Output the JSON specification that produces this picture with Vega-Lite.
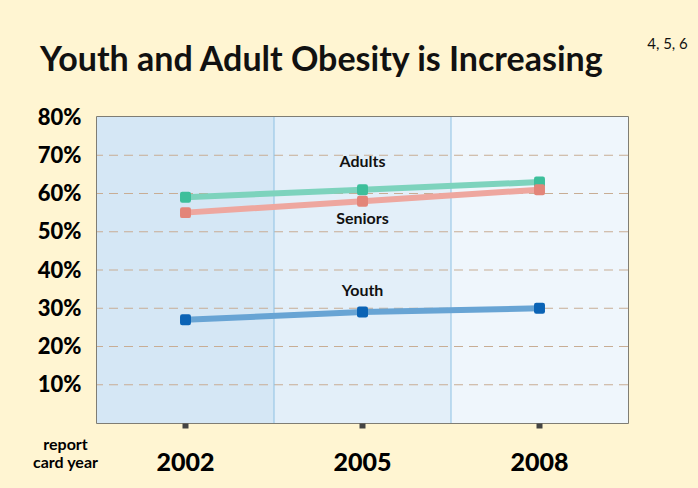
{
  "$schema": "https://vega.github.io/schema/vega-lite/v6.json",
  "width": 531,
  "height": 306,
  "autosize": {"type": "none"},
  "padding": {"left": 97, "top": 117, "right": 70, "bottom": 65},
  "background": "#fff5d2",
  "title": {
    "text": "Youth and Adult Obesity is Increasing",
    "anchor": "start",
    "frame": "group",
    "dx": -57,
    "dy": 72,
    "offset": 4,
    "baseline": "alphabetic",
    "font": "Lato",
    "fontSize": 34,
    "fontWeight": "bold",
    "color": "#111111"
  },
  "config": {
    "view": {"stroke": "#555555", "strokeWidth": 1.5},
    "font": "Lato"
  },
  "datasets": {
    "obesity": [
      {"series": "Adults", "year": 2002, "value": 59},
      {"series": "Adults", "year": 2005, "value": 61},
      {"series": "Adults", "year": 2008, "value": 63},
      {"series": "Seniors", "year": 2002, "value": 55},
      {"series": "Seniors", "year": 2005, "value": 58},
      {"series": "Seniors", "year": 2008, "value": 61},
      {"series": "Youth", "year": 2002, "value": 27},
      {"series": "Youth", "year": 2005, "value": 29},
      {"series": "Youth", "year": 2008, "value": 30}
    ],
    "years": [{"year": 2002}, {"year": 2005}, {"year": 2008}],
    "gridlines": [
      {"level": 10}, {"level": 20}, {"level": 30}, {"level": 40},
      {"level": 50}, {"level": 60}, {"level": 70}
    ],
    "note": [{"refs": "4, 5, 6"}]
  },
  "layer": [
    {
      "data": {"name": "years"},
      "mark": {"type": "rect"},
      "encoding": {
        "x": {
          "field": "year",
          "type": "ordinal",
          "scale": {"type": "band", "paddingInner": 0, "paddingOuter": 0},
          "axis": {
            "domain": false,
            "grid": false,
            "tickSize": 5,
            "tickWidth": 6,
            "tickColor": "#444444",
            "labelAngle": 0,
            "labelFont": "Lato",
            "labelFontSize": 25,
            "labelFontWeight": 900,
            "labelColor": "#000000",
            "labelPadding": 22,
            "title": ["report", "card year"],
            "titleFont": "Lato",
            "titleFontSize": 16,
            "titleFontWeight": "bold",
            "titleColor": "#000000",
            "titleX": -32,
            "titleY": 13,
            "titleAlign": "center",
            "titleBaseline": "top",
            "titleLineHeight": 18
          }
        },
        "color": {
          "field": "year",
          "type": "ordinal",
          "scale": {"domain": [2002, 2005, 2008], "range": ["#d5e7f5", "#e3eff9", "#eff6fc"]},
          "legend": null
        }
      }
    },
    {
      "data": {"name": "gridlines"},
      "mark": {"type": "rule", "color": "#c8ad94", "strokeWidth": 1, "strokeDash": [9, 6]},
      "encoding": {
        "y": {
          "field": "level",
          "type": "quantitative",
          "scale": {"domain": [0, 80], "nice": false},
          "axis": {
            "domain": false,
            "ticks": false,
            "grid": false,
            "values": [10, 20, 30, 40, 50, 60, 70, 80],
            "labelExpr": "datum.value + '%'",
            "labelFont": "Lato",
            "labelFontSize": 22,
            "labelFontWeight": 900,
            "labelColor": "#000000",
            "labelPadding": 16,
            "title": null
          }
        }
      }
    },
    {
      "data": {"name": "years"},
      "transform": [{"filter": "datum.year > 2002"}],
      "mark": {"type": "rule", "color": "#8ec1e3", "strokeWidth": 1},
      "encoding": {
        "x": {"field": "year", "type": "ordinal", "bandPosition": 0}
      }
    },
    {
      "data": {"name": "obesity"},
      "mark": {"type": "line", "strokeWidth": 6, "strokeCap": "round"},
      "encoding": {
        "x": {"field": "year", "type": "ordinal"},
        "y": {"field": "value", "type": "quantitative"},
        "color": {
          "field": "series",
          "type": "nominal",
          "scale": {"domain": ["Adults", "Seniors", "Youth"], "range": ["#7dd3bd", "#eea79f", "#68a4d4"]},
          "legend": null
        }
      }
    },
    {
      "data": {"name": "obesity"},
      "mark": {
        "type": "point",
        "filled": true,
        "opacity": 1,
        "size": 120,
        "shape": "M -1 -0.6 Q -1 -1 -0.6 -1 L 0.6 -1 Q 1 -1 1 -0.6 L 1 0.6 Q 1 1 0.6 1 L -0.6 1 Q -1 1 -1 0.6 Z"
      },
      "encoding": {
        "x": {"field": "year", "type": "ordinal"},
        "y": {"field": "value", "type": "quantitative"},
        "color": {
          "field": "series",
          "type": "nominal",
          "scale": {"domain": ["Adults", "Seniors", "Youth"], "range": ["#3dbf9b", "#e38579", "#0b63b5"]},
          "legend": null
        }
      }
    },
    {
      "data": {"name": "obesity"},
      "transform": [{"filter": "datum.year == 2005 && datum.series == 'Adults'"}],
      "mark": {"type": "text", "dy": -28, "font": "Lato", "fontSize": 16, "fontWeight": "bold", "color": "#111111"},
      "encoding": {
        "x": {"field": "year", "type": "ordinal"},
        "y": {"field": "value", "type": "quantitative"},
        "text": {"field": "series"}
      }
    },
    {
      "data": {"name": "obesity"},
      "transform": [{"filter": "datum.year == 2005 && datum.series == 'Seniors'"}],
      "mark": {"type": "text", "dy": 18, "font": "Lato", "fontSize": 16, "fontWeight": "bold", "color": "#111111"},
      "encoding": {
        "x": {"field": "year", "type": "ordinal"},
        "y": {"field": "value", "type": "quantitative"},
        "text": {"field": "series"}
      }
    },
    {
      "data": {"name": "obesity"},
      "transform": [{"filter": "datum.year == 2005 && datum.series == 'Youth'"}],
      "mark": {"type": "text", "dy": -21, "font": "Lato", "fontSize": 16, "fontWeight": "bold", "color": "#111111"},
      "encoding": {
        "x": {"field": "year", "type": "ordinal"},
        "y": {"field": "value", "type": "quantitative"},
        "text": {"field": "series"}
      }
    },
    {
      "data": {"name": "note"},
      "mark": {"type": "text", "dx": 128, "font": "Lato", "fontSize": 15, "color": "#111111"},
      "encoding": {
        "x": {"datum": 2008, "type": "ordinal"},
        "y": {"datum": 99, "type": "quantitative"},
        "text": {"field": "refs"}
      }
    }
  ],
  "resolve": {"scale": {"color": "independent"}}
}
